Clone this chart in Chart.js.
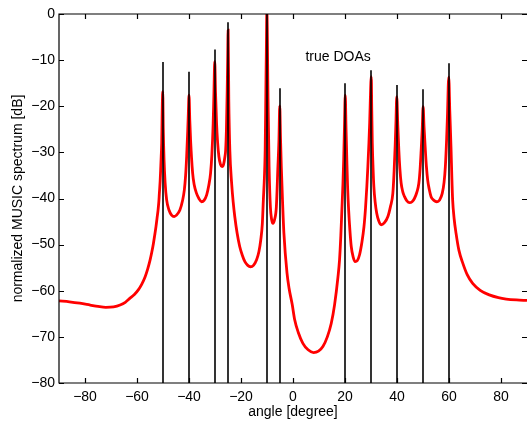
<!DOCTYPE html>
<html>
<head>
<meta charset="utf-8">
<script src="https://cdn.jsdelivr.net/npm/chart.js@4.4.1/dist/chart.umd.min.js"></script>
<style>
  body { margin: 0; background: #fff; }
  canvas { display: block; }
</style>
</head>
<body>
<canvas id="music" width="527" height="422"></canvas>
<script>
// true directions of arrival and the height of their marker lines (dB)
const doaAngles = [-50, -40, -30, -25, -10, -5, 20, 30, 40, 50, 60];
const doaTops = [-10.4, -12.5, -7.7, -1.8, 2, -16.1, -15.0, -12.2, -15.4, -16.3, -10.7];

const xTicks = [-80, -60, -40, -20, 0, 20, 40, 60, 80];
const yTicks = [-80, -70, -60, -50, -40, -30, -20, -10, 0];

// MUSIC spectrum: [angle, dB]
const spectrumPoints = [
    [-90, -62.2], [-86, -62.4], [-82, -62.7], [-78, -63.1], [-75, -63.4], [-72, -63.6],
    [-69, -63.5], [-66.5, -63.1], [-64.5, -62.5], [-62.7, -61.6], [-61, -60.8], [-59.5, -59.8],
    [-58.2, -58.6], [-56.9, -57.0], [-55.9, -55.3], [-55.0, -53.4], [-54.3, -51.6], [-53.7, -49.8],
    [-53.2, -48], [-52.7, -46.1], [-52.3, -44.3], [-51.9, -42.5], [-51.6, -40.7], [-51.4, -38.9],
    [-51.1, -36.3], [-50.9, -33.8], [-50.7, -31], [-50.5, -28], [-50.4, -24.5], [-50.3, -20.8],
    [-50.1, -16.8],
    [-49.9, -25], [-49.6, -31.6], [-49.2, -36.5], [-48.6, -40.3], [-47.7, -42.5], [-46.7, -43.6],
    [-45.7, -43.9], [-44.8, -43.6], [-43.5, -42.5], [-42.5, -40.5], [-41.8, -38.2], [-41.3, -35],
    [-40.9, -30.9], [-40.5, -25.5], [-40.25, -21.5], [-40.0, -17.6],
    [-39.7, -23], [-39.4, -27.3], [-38.6, -34.5], [-38, -37], [-37.1, -38.9], [-36.2, -40],
    [-35.2, -40.7], [-34.2, -40.4], [-33.2, -39.2], [-32.4, -37.2], [-31.7, -34.5], [-31.2, -30.5],
    [-30.7, -23.7], [-30.4, -17], [-30.1, -10.3],
    [-29.8, -17], [-29.4, -23.7], [-29, -27.8], [-28.5, -30.9], [-27.9, -32.6], [-27.3, -33.1],
    [-26.7, -32.6], [-26.2, -31], [-25.9, -29.5], [-25.6, -25], [-25.3, -16.5], [-25.1, -9],
    [-24.95, -3.5],
    [-24.7, -18.6], [-24.3, -29.5], [-23.6, -36.7], [-23, -40.8], [-22.4, -43.9], [-21.5, -47.5],
    [-20.5, -50.4], [-19.5, -52.3], [-18.5, -53.7], [-17.4, -54.5], [-16.4, -54.8], [-15.2, -54.5],
    [-14.0, -53.3], [-13.1, -51.5], [-12.4, -49], [-11.8, -45.5], [-11.4, -40.3], [-11, -35.5],
    [-10.7, -29.5], [-10.4, -15], [-10.25, -8], [-10.05, 0.5],
    [-9.6, -18.6], [-9.2, -33.1], [-8.7, -41.8], [-8.2, -44.6], [-7.7, -45.4], [-7.1, -44.6],
    [-6.4, -41.8], [-5.8, -33.1], [-5.4, -27.3], [-5.1, -19.9],
    [-4.8, -27], [-4.5, -33.1], [-4, -41], [-3.5, -47.5], [-2.3, -56.2], [-1.5, -59.5],
    [-0.3, -63], [0.65, -66.3], [2, -69], [3.8, -71.4], [5.8, -72.8], [7.9, -73.4],
    [9.8, -73.1], [11.5, -72.1], [13.2, -70], [14.7, -67.1], [16, -63], [17.3, -57],
    [17.9, -53.3], [18.4, -48], [18.8, -42.5], [19.2, -37], [19.5, -31.6], [19.8, -24.4],
    [20.1, -17.6],
    [20.4, -25], [20.7, -31.6], [21, -37.5], [21.4, -42.5], [21.9, -47], [22.4, -50.4],
    [23.1, -52.6], [23.9, -53.7], [24.7, -53.5], [25.6, -52.2], [26.5, -49.5], [27.3, -46.1],
    [27.9, -42], [28.4, -37.4], [28.8, -33], [29.2, -28], [29.5, -23.5], [29.7, -19.4],
    [30.1, -13.6],
    [30.3, -21], [30.5, -28], [30.8, -33.5], [31.1, -37.4], [31.6, -40.8], [32.2, -43.2],
    [33, -44.9], [33.9, -45.7], [35.1, -45.3], [36.5, -43.9], [37.5, -41.7], [38.4, -38.9],
    [38.9, -34], [39.3, -28.5], [39.6, -23.5], [39.9, -17.9],
    [40.3, -24], [40.7, -29.5], [41.1, -33.5], [41.6, -36.7], [42.2, -38.5], [42.9, -39.6],
    [43.8, -40.5], [44.8, -40.9], [45.8, -40.7], [46.7, -40], [47.6, -38.7], [48.4, -36.7],
    [48.9, -33.5], [49.3, -29.5], [49.7, -25], [50.05, -20.1],
    [50.4, -24.5], [50.9, -29.5], [51.3, -33], [51.8, -36], [52.4, -38], [53.1, -39.6],
    [54.2, -40.4], [55.3, -40.7], [56.4, -40.3], [57.4, -38.9], [58.1, -36.5], [58.6, -33.1],
    [59.1, -27], [59.4, -22.2], [59.9, -13.7],
    [60.3, -21], [60.8, -29.5], [61.1, -35.5], [61.4, -40.3], [62, -44.5], [62.7, -47.5],
    [63.8, -51.2], [65.3, -54], [67, -56.5], [69.1, -58.4], [72, -59.9], [75.5, -60.9],
    [79, -61.5], [82, -61.8], [86, -62.0], [90, -62.1]
];

const FONT = '"Liberation Sans", Arial, Helvetica, sans-serif';
const minus = v => (v < 0 ? '\u2212' + Math.abs(v) : String(v));

const datasets = doaAngles.map((a, i) => ({
    data: [{ x: a, y: -80 }, { x: a, y: doaTops[i] }],
    borderColor: '#000',
    borderWidth: 1.6,
    pointRadius: 0,
    order: 1
}));
datasets.push({
    data: spectrumPoints.map(p => ({ x: p[0], y: p[1] })),
    borderColor: '#ff0000',
    borderWidth: 2.8,
    pointRadius: 0,
    cubicInterpolationMode: 'monotone',
    order: 2
});

// box round the plot with inward ticks, plus the annotation
const framePlugin = {
    id: 'frame',
    afterDraw(chart) {
        const { ctx, chartArea: a, scales: { x, y } } = chart;
        ctx.save();
        ctx.strokeStyle = '#000';
        ctx.lineWidth = 1.2;
        ctx.beginPath();
        ctx.moveTo(a.right + 1, a.top);
        ctx.lineTo(a.left, a.top);
        ctx.lineTo(a.left, a.bottom);
        ctx.lineTo(a.right + 1, a.bottom);
        const tl = 5;
        xTicks.forEach(v => {
            const px = Math.round(x.getPixelForValue(v)) + 0.5;
            ctx.moveTo(px, a.bottom); ctx.lineTo(px, a.bottom - tl);
            ctx.moveTo(px, a.top); ctx.lineTo(px, a.top + tl);
        });
        yTicks.forEach(v => {
            const py = Math.round(y.getPixelForValue(v)) + 0.5;
            ctx.moveTo(a.left, py); ctx.lineTo(a.left + tl, py);
            ctx.moveTo(a.right, py); ctx.lineTo(a.right - tl, py);
        });
        ctx.stroke();

        ctx.fillStyle = '#000';
        ctx.font = '14px ' + FONT;
        ctx.textAlign = 'left';
        ctx.textBaseline = 'middle';
        ctx.fillText('true DOAs', x.getPixelForValue(4.8), y.getPixelForValue(-9.4));
        ctx.restore();
    }
};

new Chart(document.getElementById('music'), {
    type: 'line',
    data: { datasets },
    options: {
        responsive: false,
        animation: false,
        layout: { padding: { top: 14, right: 0, left: 0, bottom: 0 } },
        plugins: {
            legend: { display: false },
            tooltip: { enabled: false }
        },
        scales: {
            x: {
                type: 'linear',
                min: -90,
                max: 90,
                afterBuildTicks: s => { s.ticks = xTicks.map(v => ({ value: v })); },
                afterFit: s => { s.height = 39; },
                grid: { display: false, drawTicks: false },
                border: { display: false },
                ticks: {
                    padding: 6,
                    maxRotation: 0,
                    color: '#000',
                    font: { family: FONT, size: 14 },
                    callback: v => minus(v)
                },
                title: {
                    display: true,
                    text: 'angle [degree]',
                    color: '#000',
                    font: { family: FONT, size: 14 },
                    padding: { top: 0, bottom: 1 }
                }
            },
            y: {
                min: -80,
                max: 0,
                afterBuildTicks: s => { s.ticks = yTicks.map(v => ({ value: v })); },
                afterFit: s => { s.width = 59; },
                grid: { display: false, drawTicks: false },
                border: { display: false },
                ticks: {
                    padding: 4,
                    color: '#000',
                    font: { family: FONT, size: 14 },
                    callback: v => minus(v)
                },
                title: {
                    display: true,
                    text: 'normalized MUSIC spectrum [dB]',
                    color: '#000',
                    font: { family: FONT, size: 14 },
                    padding: { top: 10, bottom: 0 }
                }
            }
        }
    },
    plugins: [framePlugin]
});
</script>
</body>
</html>
